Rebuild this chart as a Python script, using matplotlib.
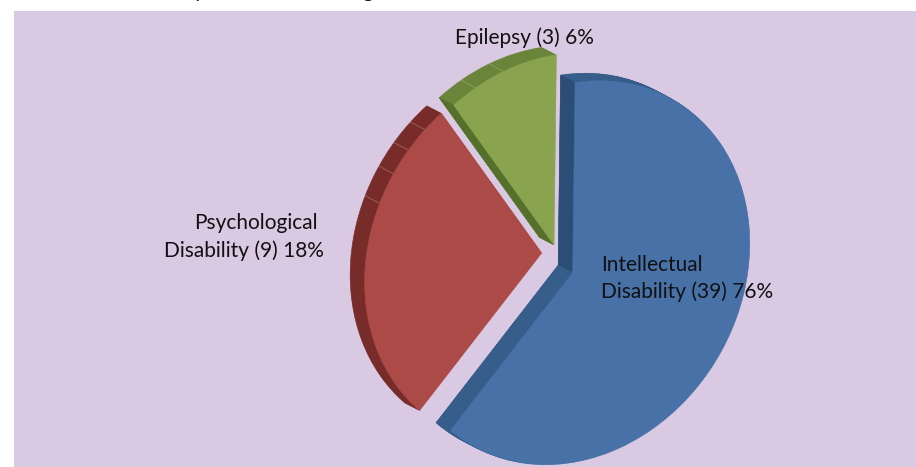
import numpy as np
import matplotlib
matplotlib.use('Agg')
import matplotlib.pyplot as plt
from matplotlib.patches import Polygon, Rectangle
from matplotlib.transforms import Affine2D

# share of the circle each slice really takes in the picture
names = ['Intellectual\nDisability', 'Psychological\nDisability', 'Epilepsy']
counts = [39, 9, 3]
percents = [76, 18, 6]
drawn_share = [61.9, 28.3, 9.8]

top_colors = ['#4771A7', '#AB4A47', '#89A34E']
rim_colors = ['#375D8A', '#772C2A', '#6A8539']
edge_colors = ['#2C4D75', '#772C2A', '#55702B']
seam_angles = [[], [310.0, 302.4, 294.4, 285.0], [334.7, 325.0]]

W, H = 916, 467
RX, RY = 175.0, 192.0
SKEW = 27.0 / RX  # the pie leans: top to the right, bottom to the left
DEPTH = 15


def ux(px):
    return px / RX


def uy(py):
    return (H - py) / RY


def unskew(x, y):
    return np.array([x - SKEW * y, y])


centers = [unskew(ux(572.7), uy(272.7)), unskew(ux(541.7), uy(253)), unskew(ux(554), uy(245))]
off = unskew(-14.5 / RX, 7.5 / RY)

plt.rcParams['font.family'] = ['Lato', 'DejaVu Sans']
fig = plt.figure(figsize=(W / 100, H / 100), dpi=100)
ax = fig.add_axes([0, 0, 1, 1])
lean = Affine2D(np.array([[1, SKEW, 0], [0, 1, 0], [0, 0, 1]])) + ax.transData

ax.add_patch(Rectangle((ux(14), uy(H)), ux(W) - ux(14), uy(11) - uy(H),
                       facecolor='#DAC9E3', edgecolor='none', zorder=0))

# extruded rim: the same pie stacked back to front
for step in range(DEPTH, 0, -1):
    wedges, _ = ax.pie(drawn_share, startangle=98, counterclock=False, colors=rim_colors,
                       wedgeprops={'linewidth': 0.4, 'zorder': 1})
    for i, w in enumerate(wedges):
        w.set_center(tuple(centers[i] + off * step / DEPTH))
        w.set_edgecolor(rim_colors[i])
        w.set_transform(lean)

wedges, _ = ax.pie(drawn_share, startangle=98, counterclock=False, colors=top_colors,
                   wedgeprops={'linewidth': 0.4, 'zorder': 3})

for i, w in enumerate(wedges):
    c = centers[i]
    w.set_center(tuple(c))
    w.set_edgecolor(top_colors[i])
    w.set_transform(lean)

    # straight cut faces, theta2 is the edge the slice starts from
    t1, t2 = np.radians(w.theta1), np.radians(w.theta2)
    p1 = c + [np.cos(t1), np.sin(t1)]
    p2 = c + [np.cos(t2), np.sin(t2)]
    if i == 0:
        ax.add_patch(Polygon([c, p2, p2 + off, c + off], facecolor=edge_colors[0],
                             edgecolor=edge_colors[0], lw=0.3, zorder=2, transform=lean))
        ax.add_patch(Polygon([c, p1, p1 + off, c + off], facecolor=rim_colors[0],
                             edgecolor=rim_colors[0], lw=0.3, zorder=2, transform=lean))
    if i == 2:
        ax.add_patch(Polygon([c, p2, p2 + off, c + off], facecolor=edge_colors[2],
                             edgecolor=edge_colors[2], lw=0.3, zorder=2, transform=lean))

    for a in seam_angles[i]:
        t = np.radians(90 - a)
        p = c + [np.cos(t), np.sin(t)]
        ax.plot([p[0], p[0] + off[0]], [p[1], p[1] + off[1]], color='#C99A98' if i == 1 else '#A9BC7C',
                lw=0.5, alpha=0.6, zorder=2.5, transform=lean)

ax.set_aspect('auto')
ax.set_xlim(0, ux(W))
ax.set_ylim(0, uy(0))
ax.axis('off')

fs = 15
labels = [n.split('\n') for n in names]
ax.text(ux(601), uy(265), labels[0][0], fontsize=fs, ha='left', va='center', color='#111111', zorder=5)
ax.text(ux(601), uy(292), '%s (%d) %d%%' % (labels[0][1], counts[0], percents[0]), fontsize=fs,
        ha='left', va='center', color='#111111', zorder=5)
ax.text(ux(318), uy(223), labels[1][0], fontsize=fs, ha='right', va='center', color='#111111', zorder=5)
ax.text(ux(324), uy(251), '%s (%d) %d%%' % (labels[1][1], counts[1], percents[1]), fontsize=fs,
        ha='right', va='center', color='#111111', zorder=5)
ax.text(ux(524), uy(38), '%s (%d) %d%%' % (labels[2][0], counts[2], percents[2]), fontsize=fs,
        ha='center', va='center', color='#111111', zorder=5)

# tails of the cropped caption above the panel
ax.text(ux(199), uy(-3), 'y', fontsize=fs, ha='center', va='baseline', color='#111111', clip_on=False)
ax.text(ux(368), uy(-3), 'g', fontsize=fs, ha='center', va='baseline', color='#111111', clip_on=False)

fig.savefig('out.png', dpi=100, facecolor='white')
